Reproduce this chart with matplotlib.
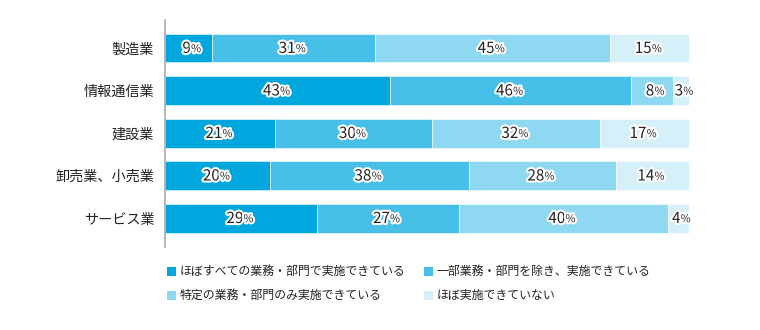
import numpy as np
import matplotlib
matplotlib.use('Agg')
import matplotlib.pyplot as plt
import matplotlib.patheffects as pe
from matplotlib.patches import Rectangle

plt.rcParams['font.family'] = ['Noto Sans CJK JP', 'DejaVu Sans']

# ==========================================
# データ
# ==========================================
categories = ['製造業', '情報通信業', '建設業', '卸売業、小売業', 'サービス業']
series_names = ['ほぼすべての業務・部門で実施できている',
                '一部業務・部門を除き、実施できている',
                '特定の業務・部門のみ実施できている',
                'ほぼ実施できていない']
all_depts = [9, 43, 21, 20, 29]
most_depts = [31, 46, 30, 38, 27]
some_depts = [45, 8, 32, 28, 40]
none_depts = [15, 3, 17, 14, 4]

colors = ['#00a7df', '#47bfe8', '#8fd8f1', '#d6f0fa']

values = np.array([all_depts, most_depts, some_depts, none_depts], dtype=float)

fig = plt.figure(figsize=(7.6, 3.3), dpi=100)
ax = fig.add_axes([0.2175, 0.2515, 0.689, 0.688])

y = np.arange(len(categories))
left = np.zeros(len(categories))
stroke = [pe.withStroke(linewidth=3, foreground='white')]

for k in range(len(values)):
    ax.barh(y, values[k], left=left, height=0.68, color=colors[k],
            edgecolor='#ffffff', linewidth=0.4)
    for i, v in enumerate(values[k]):
        cx = left[i] + v / 2
        ax.annotate(f'{int(v)}', (cx, y[i]), xytext=(1.5, -0.3), textcoords='offset points',
                    ha='right', va='center', fontsize=11, color='#222222',
                    path_effects=stroke, zorder=5)
        ax.annotate('%', (cx, y[i]), xytext=(1.6, -0.8), textcoords='offset points',
                    ha='left', va='center', fontsize=7.8, color='#222222',
                    path_effects=stroke, zorder=5)
    left += values[k]

ax.set_xlim(0, 100)
ax.set_ylim(len(categories) - 1 + 0.68, -0.66)
ax.set_yticks(y)
ax.set_yticklabels(categories, fontsize=10.2, color='#222222')
ax.tick_params(axis='y', length=0, pad=8)
ax.set_xticks([])
for s in ['top', 'right', 'bottom']:
    ax.spines[s].set_visible(False)
ax.spines['left'].set_color('#aaaaaa')
ax.spines['left'].set_linewidth(1.2)

# 凡例
leg_x = [166.7, 424]
leg_y = [271, 295]
for k, name in enumerate(series_names):
    px = leg_x[k % 2]
    py = leg_y[k // 2]
    fig.add_artist(Rectangle((px / 760, 1 - (py + 4.5) / 330), 9 / 760, 9 / 330,
                             transform=fig.transFigure, color=colors[k], lw=0))
    fig.text((px + 12.5) / 760, 1 - py / 330, name, fontsize=8.6, color='#222222',
             ha='left', va='center')

plt.savefig('out.png', dpi=100)
